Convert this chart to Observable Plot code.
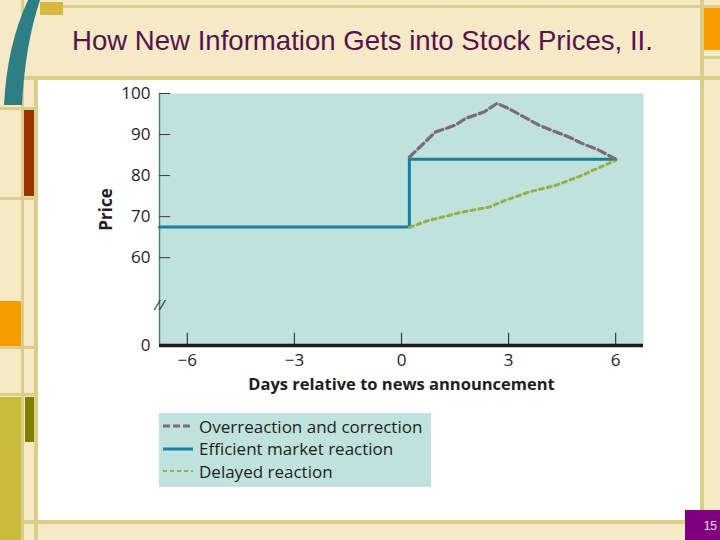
<!DOCTYPE html>
<html>
<head>
<meta charset="utf-8">
<script src="https://cdn.jsdelivr.net/npm/d3@7"></script>
<script src="https://cdn.jsdelivr.net/npm/@observablehq/plot@0.6"></script>
<style>
  html, body { margin: 0; padding: 0; }
  body { width: 720px; height: 540px; position: relative; overflow: hidden; background: #f5e9c6; font-family: "Liberation Sans", Arial, sans-serif; }
  .abs { position: absolute; }
  .ln { position: absolute; background: #d9ce8a; }
  #title { position: absolute; left: 72px; top: 25px; font-size: 28px; color: #561250; white-space: nowrap; transform: scaleX(0.985); transform-origin: left; }
  #chart { position: absolute; left: 90px; top: 80px; }
  #legend { position: absolute; left: 159px; top: 413px; width: 272px; height: 74px; background: #bfe3dc; font-family: "Open Sans", "Noto Sans", sans-serif; font-size: 17px; color: #1e1e1e; }
  #legend .item { position: absolute; left: 4px; height: 22px; display: flex; align-items: center; white-space: nowrap; }
  #legend svg { margin-right: 6px; }
  #page { position: absolute; left: 685px; top: 510px; width: 35px; height: 30px; background: #800080; color: #f0e0f0; font-size: 12px; font-family: "Liberation Sans", Arial, sans-serif; }
  #page span { position: absolute; right: 3px; top: 9px; }
</style>
</head>
<body>
<!-- slide frame decoration -->
<div class="abs" style="left:38px;top:80px;width:662px;height:440px;background:#ffffff;"></div>
<div class="ln" style="left:60px;top:5px;width:660px;height:3px;"></div>
<div class="ln" style="left:22px;top:76px;width:698px;height:4px;"></div>
<div class="ln" style="left:0;top:520px;width:720px;height:4px;"></div>
<div class="ln" style="left:21px;top:0;width:3px;height:540px;"></div>
<div class="ln" style="left:34px;top:80px;width:4px;height:460px;"></div>
<div class="ln" style="left:700px;top:0;width:4px;height:540px;"></div>
<div class="ln" style="left:0;top:107px;width:38px;height:3px;"></div>
<div class="ln" style="left:0;top:197px;width:38px;height:3px;"></div>
<div class="ln" style="left:0;top:346px;width:38px;height:3px;"></div>
<div class="ln" style="left:0;top:393px;width:38px;height:3px;"></div>
<div class="ln" style="left:704px;top:56px;width:16px;height:3px;"></div>
<div class="abs" style="left:40px;top:2px;width:23px;height:13px;background:#d8b83e;"></div>
<div class="abs" style="left:24px;top:110px;width:10px;height:86px;background:#993300;"></div>
<div class="abs" style="left:0;top:301px;width:21px;height:45px;background:#f59d00;"></div>
<div class="abs" style="left:0;top:397px;width:21px;height:143px;background:#c9bb3c;"></div>
<div class="abs" style="left:25px;top:397px;width:9px;height:45px;background:#808000;"></div>
<div class="abs" style="left:704px;top:8px;width:16px;height:42px;background:#f59d00;"></div>
<svg class="abs" style="left:0;top:0;" width="45" height="110">
  <path d="M28,0 L40,0 Q25,45 22,105 L4,105 Q7,45 28,0 Z" fill="#2e7e86"/>
</svg>
<div id="page"><span>15</span></div>

<div id="title">How New Information Gets into Stock Prices, II.</div>
<div id="chart"></div>

<div id="legend">
  <div class="item" style="top:2px;"><svg width="30" height="6"><line x1="0" y1="3" x2="30" y2="3" stroke="#7e6a7a" stroke-width="3" stroke-dasharray="7,3"/></svg>Overreaction and correction</div>
  <div class="item" style="top:24.5px;"><svg width="30" height="6"><line x1="0" y1="3" x2="30" y2="3" stroke="#1a7e9e" stroke-width="3"/></svg>Efficient market reaction</div>
  <div class="item" style="top:47px;"><svg width="30" height="6"><line x1="0" y1="3" x2="30" y2="3" stroke="#9aae45" stroke-width="2" stroke-dasharray="4,3"/></svg>Delayed reaction</div>
</div>

<script>
// ---- data ----
const xDomain = [-6.78, 6.78];
const breakBase = 38.6;              // vertical position where the broken axis shows "0"
const xTicks = [-6, -3, 0, 3, 6];
const yTicks = [60, 70, 80, 90, 100];
const yTickLabels = ["0", "60", "70", "80", "90", "100"];

const efficientDays  = [-6.78, 0.22, 0.22, 6];
const efficientPrice = [67.5, 67.5, 84, 84];

const overDays  = [0.22, 0.95, 1.51, 1.79, 2.31, 2.68, 3.01, 3.85, 4.22, 4.69, 5.07, 5.53, 6.0];
const overPrice = [84.5, 90.6, 92.3, 93.9, 95.5, 97.6, 96.3, 92.3, 91.0, 89.4, 87.8, 86.2, 84.0];

const delayDays  = [0.22, 0.77, 1.70, 2.45, 2.92, 3.57, 4.32, 5.07, 5.5, 6.0];
const delayPrice = [67.4, 69.1, 71.1, 72.3, 74.0, 76.0, 77.6, 80.1, 81.8, 83.7];

// ---- build tables ----
const efficient = efficientDays.map((d, i) => ({day: d, price: efficientPrice[i]}));
const over = overDays.map((d, i) => ({day: d, price: overPrice[i]}));
const delayed = delayDays.map((d, i) => ({day: d, price: delayPrice[i]}));
const yAxisValues = [breakBase, ...yTicks];

const chart = Plot.plot({
  width: 570,
  height: 320,
  marginTop: 13,
  marginBottom: 55,
  marginLeft: 69,
  marginRight: 17,
  style: {fontFamily: "'Open Sans', 'Noto Sans', sans-serif", fontSize: "17px", color: "#1e1e1e", background: "transparent", overflow: "visible"},
  x: {domain: xDomain},
  y: {domain: [breakBase, 100]},
  marks: [
    Plot.frame({fill: "#bfe3dc", stroke: null}),
    Plot.ruleX([xDomain[0]], {stroke: "#5d7a78", strokeWidth: 1.5}),
    Plot.ruleY(yTicks, {x1: xDomain[0], x2: xDomain[0] + 0.31, stroke: "#3a3a3a", strokeWidth: 1}),
    Plot.ruleX(xTicks, {y1: breakBase, y2: breakBase + 3, stroke: "#3a3a3a", strokeWidth: 1.2}),
    Plot.ruleY([breakBase], {stroke: "#1a1a1a", strokeWidth: 3.5}),
    Plot.text(["//"], {x: xDomain[0], y: 48.4, fontSize: 15, fill: "#333", fontStyle: "italic"}),
    Plot.axisX({ticks: xTicks, tickSize: 0, tickPadding: 8, label: null, fontSize: 17}),
    Plot.axisY({ticks: yAxisValues, tickSize: 0, tickPadding: 9, label: null, fontSize: 17,
      tickFormat: (d) => yTickLabels[yAxisValues.indexOf(d)]}),
    Plot.text(["Days relative to news announcement"], {frameAnchor: "bottom", dy: 44, fontWeight: "bold", fontSize: 16.5, fill: "#1e1e1e"}),
    Plot.text(["Price"], {frameAnchor: "left", textAnchor: "middle", dx: -53, dy: -10, rotate: -90, fontWeight: "bold", fontSize: 17, fill: "#1e1e1e"}),
    Plot.line(efficient, {x: "day", y: "price", stroke: "#1a7e9e", strokeWidth: 3, curve: "linear"}),
    Plot.line(delayed, {x: "day", y: "price", stroke: "#9aae45", strokeWidth: 3, strokeDasharray: "4,4"}),
    Plot.line(over, {x: "day", y: "price", stroke: "#7e6a7a", strokeWidth: 3.2, strokeDasharray: "8,4"})
  ]
});
document.getElementById("chart").appendChild(chart);
</script>
</body>
</html>
